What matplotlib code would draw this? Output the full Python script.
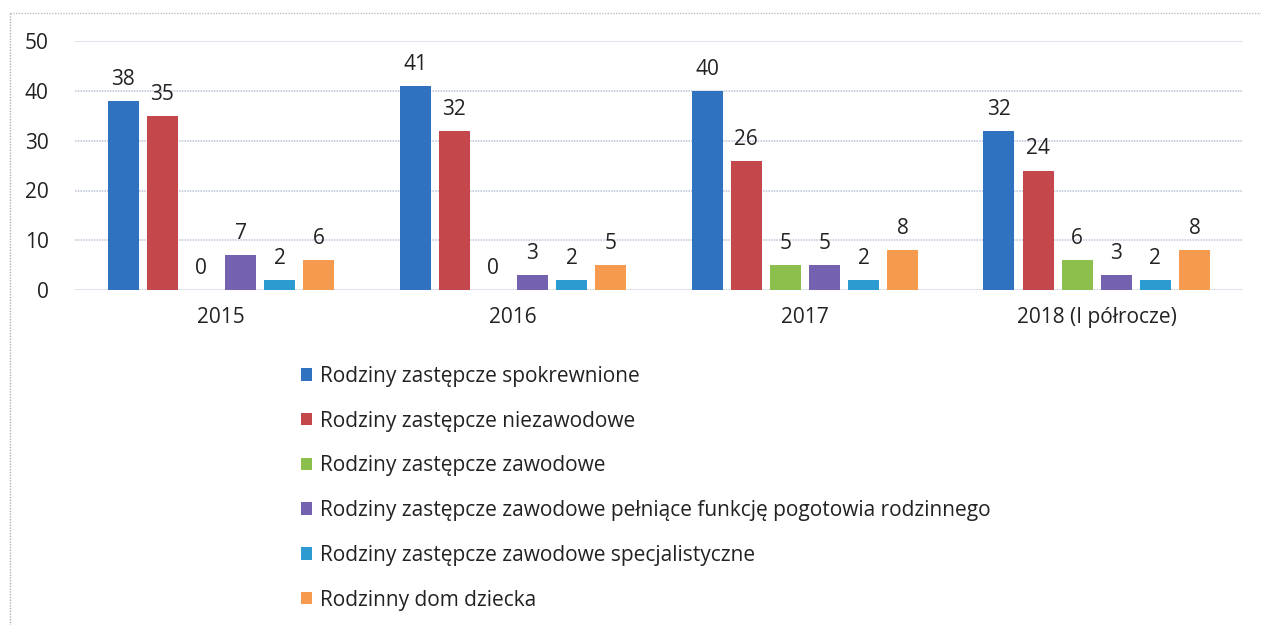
import matplotlib.pyplot as plt
import numpy as np
from matplotlib.lines import Line2D

plt.rcParams['font.family'] = ['Open Sans', 'DejaVu Sans']

years = ['2015', '2016', '2017', '2018 (I półrocze)']
series = ['Rodziny zastępcze spokrewnione',
          'Rodziny zastępcze niezawodowe',
          'Rodziny zastępcze zawodowe',
          'Rodziny zastępcze zawodowe pełniące funkcję pogotowia rodzinnego',
          'Rodziny zastępcze zawodowe specjalistyczne',
          'Rodzinny dom dziecka']
spokrewnione = [38, 41, 40, 32]
niezawodowe = [35, 32, 26, 24]
zawodowe = [0, 0, 5, 6]
pogotowie = [7, 3, 5, 3]
specjalistyczne = [2, 2, 2, 2]
dom_dziecka = [6, 5, 8, 8]

values = [spokrewnione, niezawodowe, zawodowe, pogotowie, specjalistyczne, dom_dziecka]
colors = ['#2F72C0', '#C4474B', '#8CBF4C', '#7462B0', '#2B9BD2', '#F59A4E']

fig = plt.figure(figsize=(12.61, 6.25), dpi=100)
ax = fig.add_axes([0.0595, 0.536, 0.926, 0.398])

x = np.arange(len(years))
pitch = 0.134
width = 0.106
for i, (vals, col) in enumerate(zip(values, colors)):
    pos = x + (i - 2.5) * pitch
    ax.bar(pos, vals, width, color=col, label=series[i], zorder=3)
    for p, v in zip(pos, vals):
        ax.annotate(str(v), (p, v), xytext=(0, 8), textcoords='offset points',
                    ha='center', va='bottom', fontsize=15, color='#222222')

ax.set_xlim(-0.5, 3.5)
ax.set_ylim(0, 50)
ax.set_yticks([0, 10, 20, 30, 40, 50])
ax.set_xticks(x)
ax.set_xticklabels(years)
ax.tick_params(axis='both', length=0, labelsize=15, colors='#222222')
ax.tick_params(axis='x', pad=12)
ax.tick_params(axis='y', pad=19)
ax.grid(axis='y', color='#C3CCDE', linewidth=1.2, linestyle=(0, (1, 0.6)), zorder=0)
for s in ax.spines.values():
    s.set_visible(False)

# frame of the scanned chart
fig.add_artist(Line2D([0.008, 0.008], [0.98, 0.0], color='#B0B0B0', lw=1,
                      linestyle=(0, (1, 1)), transform=fig.transFigure))
fig.add_artist(Line2D([0.008, 1.0], [0.98, 0.98], color='#C0C0C0', lw=1,
                      linestyle=(0, (1, 1)), transform=fig.transFigure))

fig.legend(loc='upper left', bbox_to_anchor=(0.232, 0.428), frameon=False,
           fontsize=15, handlelength=0.55, handleheight=0.55, handletextpad=0.35,
           labelspacing=1.14, borderaxespad=0, labelcolor='#222222')

fig.savefig('out.png', dpi=100)
